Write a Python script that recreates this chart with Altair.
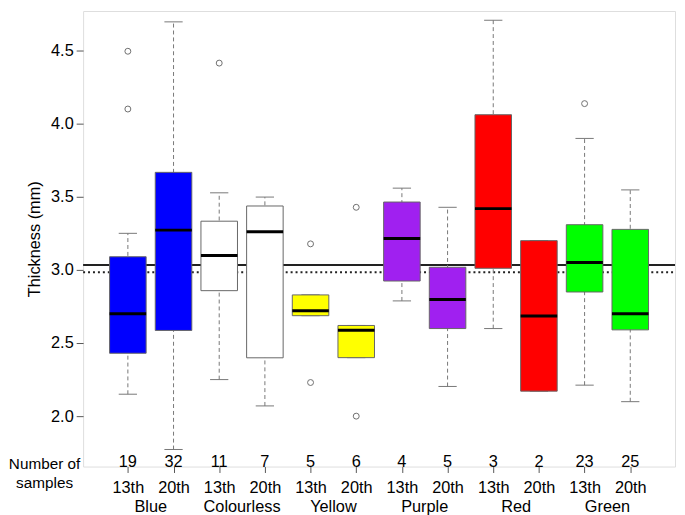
import altair as alt
import pandas as pd

# ---- data ----
colours = ["Blue", "Blue", "Colourless", "Colourless", "Yellow", "Yellow",
           "Purple", "Purple", "Red", "Red", "Green", "Green"]
periods = ["13th", "20th"] * 6
fills = ["#0000FF", "#0000FF", "#FFFFFF", "#FFFFFF", "#FFFF00", "#FFFF00",
         "#A020F0", "#A020F0", "#FF0000", "#FF0000", "#00FF00", "#00FF00"]
q1 = [2.43, 2.586, 2.858, 2.399, 2.687, 2.40, 2.924, 2.599, 3.011, 2.171, 2.849, 2.59]
median = [2.70, 3.272, 3.099, 3.261, 2.721, 2.588, 3.214, 2.797, 3.419, 2.685, 3.05, 2.70]
q3 = [3.09, 3.667, 3.333, 3.437, 2.829, 2.62, 3.464, 3.018, 4.061, 3.20, 3.309, 3.277]
whisk_lo = [2.15, 1.772, 2.25, 2.07, 2.687, 2.40, 2.788, 2.203, 2.599, 2.171, 2.212, 2.099]
whisk_hi = [3.25, 4.696, 3.527, 3.498, 2.829, 2.62, 3.559, 3.428, 4.707, 3.20, 3.899, 3.547]
counts = [19, 32, 11, 7, 5, 6, 4, 5, 3, 2, 23, 25]

outlier_pos = [1, 1, 3, 5, 5, 6, 6, 11]
outlier_val = [4.495, 4.10, 4.414, 3.178, 2.23, 3.428, 2.00, 4.137]

group_names = ["Blue", "Colourless", "Yellow", "Purple", "Red", "Green"]
ref_solid = 3.034
ref_dotted = 2.984
count_level = 1.705

Y_DOMAIN = [1.6554, 4.7703]
X_DOMAIN = [0.02, 12.98]
FONT = "Liberation Sans"
FS = 16.5

pos = list(range(1, 13))
boxes = pd.DataFrame({
    "pos": pos, "colour": colours, "period": periods, "fill": fills,
    "q1": q1, "median": median, "q3": q3, "lo": whisk_lo, "hi": whisk_hi,
    "n": [str(c) for c in counts],
})
boxes["left"] = boxes["pos"] - 0.4
boxes["right"] = boxes["pos"] + 0.4
boxes["capl"] = boxes["pos"] - 0.2
boxes["capr"] = boxes["pos"] + 0.2
boxes["nlevel"] = count_level

outl = pd.DataFrame({"pos": outlier_pos, "val": outlier_val})
groups = pd.DataFrame({"gpos": [1.5 + 2 * i for i in range(6)], "name": group_names})
refs = pd.DataFrame({"y": [ref_solid, ref_dotted], "kind": ["solid", "dotted"],
                     "x0": [X_DOMAIN[0]] * 2, "x1": [X_DOMAIN[1]] * 2})

xs = alt.Scale(domain=X_DOMAIN, nice=False, zero=False)
ys = alt.Scale(domain=Y_DOMAIN, nice=False, zero=False)

xaxis = alt.Axis(values=pos, labelExpr="datum.value % 2 == 1 ? '13th' : '20th'",
                 title=None, grid=False, domain=False, tickSize=6, tickColor="#555",
                 labelFont=FONT, labelFontSize=FS, labelColor="#000", labelPadding=7,
                 labelAngle=0)
yaxis = alt.Axis(values=[2.0, 2.5, 3.0, 3.5, 4.0, 4.5], format=".1f",
                 title="Thickness (mm)", grid=False, domain=False, tickSize=7,
                 tickColor="#555", labelFont=FONT, labelFontSize=FS, labelColor="#000",
                 labelPadding=3, titleFont=FONT, titleFontSize=FS,
                 titleFontWeight="normal", titleColor="#000", titlePadding=8)

base = alt.Chart(boxes)

solid = alt.Chart(refs[refs.kind == "solid"]).mark_rule(color="#222", strokeWidth=2).encode(
    x=alt.X("x0:Q", scale=xs, axis=xaxis), x2="x1:Q",
    y=alt.Y("y:Q", scale=ys, axis=yaxis))
dotted = alt.Chart(refs[refs.kind == "dotted"]).mark_rule(
    color="#222", strokeWidth=2, strokeDash=[2, 3]).encode(
    x=alt.X("x0:Q", scale=xs), x2="x1:Q", y=alt.Y("y:Q", scale=ys))

whisk = base.mark_rule(color="#777", strokeWidth=1, strokeDash=[4, 3]).encode(
    x=alt.X("pos:Q", scale=xs), y=alt.Y("lo:Q", scale=ys), y2="hi:Q")
cap_lo = base.mark_rule(color="#777", strokeWidth=1).encode(
    x=alt.X("capl:Q", scale=xs), x2="capr:Q", y=alt.Y("lo:Q", scale=ys))
cap_hi = base.mark_rule(color="#777", strokeWidth=1).encode(
    x=alt.X("capl:Q", scale=xs), x2="capr:Q", y=alt.Y("hi:Q", scale=ys))

box = base.mark_rect(stroke="#666", strokeWidth=1).encode(
    x=alt.X("left:Q", scale=xs), x2="right:Q",
    y=alt.Y("q1:Q", scale=ys), y2="q3:Q",
    fill=alt.Fill("fill:N", scale=None))
med = base.mark_rule(color="#000", strokeWidth=3).encode(
    x=alt.X("left:Q", scale=xs), x2="right:Q", y=alt.Y("median:Q", scale=ys))

pts = alt.Chart(outl).mark_point(shape="circle", filled=False, size=36,
                                 color="#333", strokeWidth=1).encode(
    x=alt.X("pos:Q", scale=xs), y=alt.Y("val:Q", scale=ys))

ntext = base.mark_text(font=FONT, fontSize=FS, color="#000", baseline="middle",
                       dy=3).encode(
    x=alt.X("pos:Q", scale=xs), y=alt.Y("nlevel:Q", scale=ys), text="n:N")

gtext = alt.Chart(groups).mark_text(font=FONT, fontSize=FS, color="#000",
                                    baseline="middle").encode(
    x=alt.X("gpos:Q", scale=xs), y=alt.value(502), text="name:N")

ns_label = alt.Chart(pd.DataFrame({"t": ["Number of\nsamples"]})).mark_text(
    font=FONT, fontSize=15.5, color="#000", align="center", baseline="middle",
    lineBreak="\n", lineHeight=20).encode(
    x=alt.value(-39), y=alt.value(458), text="t:N")

chart = alt.layer(solid, dotted, whisk, cap_lo, cap_hi, box, med, pts, ntext,
                  gtext, ns_label).properties(
    width=599, height=461,
    autosize=alt.AutoSizeParams(type="none"),
    padding={"left": 76, "top": 0, "right": 2, "bottom": 46},
).configure_view(stroke="#333", strokeWidth=1.3).configure(background="white")

chart.save("out.html", embed_options={"renderer": "svg", "actions": False})
